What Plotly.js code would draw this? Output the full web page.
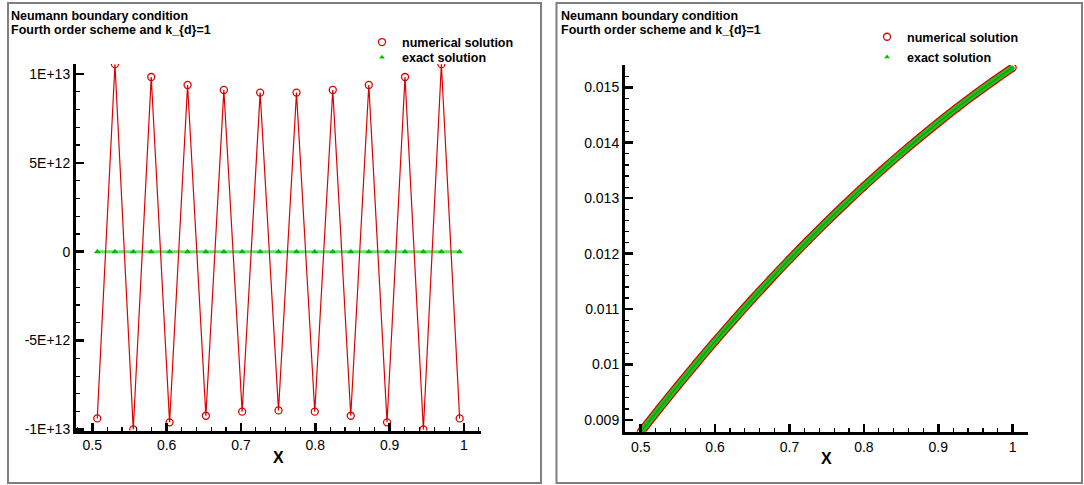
<!DOCTYPE html>
<html>
<head>
<meta charset="utf-8">
<script src="https://cdn.plot.ly/plotly-3.0.1.min.js"></script>
<style>html,body{margin:0;padding:0;background:#fff;}#chart{width:1084px;height:485px;}</style>
</head>
<body>
<div id="chart"></div>
<script>
// ---- Left panel: coarse-grid run (oscillating numerical solution) ----
const xLeft = [0.5067,0.5305,0.5551,0.5793,0.6040,0.6282,0.6528,0.6770,0.7016,0.7258,0.7505,0.7747,0.7993,0.8235,0.8477,0.8720,0.8965,0.9207,0.9454,0.9696,0.9942];
const numericalLeft = [-9.38e12,1.055e13,-1.0e13,9.83e12,-9.6e12,9.38e12,-9.23e12,9.1e12,-9.0e12,8.95e12,-8.93e12,8.95e12,-9.0e12,9.1e12,-9.23e12,9.38e12,-9.6e12,9.83e12,-1.0e13,1.055e13,-9.38e12];
const exactLeft = [0.008895,0.009297,0.009703,0.010093,0.010481,0.010852,0.011219,0.01157,0.011919,0.012251,0.012581,0.012894,0.013202,0.013496,0.013781,0.014057,0.014327,0.014582,0.014834,0.015071,0.015302];

// ---- Right panel: converged run ----
const xRight = [0.500,0.525,0.550,0.575,0.600,0.625,0.650,0.675,0.700,0.725,0.750,0.775,0.800,0.825,0.850,0.875,0.900,0.925,0.950,0.975,1.000];
const numericalRight = [0.00878,0.009205,0.00962,0.010024,0.010419,0.010803,0.011178,0.011542,0.011896,0.01224,0.012574,0.012897,0.013211,0.013514,0.013808,0.014091,0.014364,0.014627,0.01488,0.015122,0.015355];
const exactRight = [0.00878,0.009205,0.00962,0.010024,0.010419,0.010803,0.011178,0.011542,0.011896,0.01224,0.012574,0.012897,0.013211,0.013514,0.013808,0.014091,0.014364,0.014627,0.01488,0.015122,0.015355];

// ---- Text ----
const titleLine1 = "Neumann boundary condition";
const titleLine2 = "Fourth order scheme and k_{d}=1";
const seriesNames = ["numerical solution", "exact solution"];
const xTitle = "X";
const leftYTickVals = [-1e13, -5e12, 0, 5e12, 1e13];
const leftYTickText = ["-1E+13", "-5E+12", "0", "5E+12", "1E+13"];
const rightYTickVals = [0.009, 0.010, 0.011, 0.012, 0.013, 0.014, 0.015];
const rightYTickText = ["0.009", "0.01", "0.011", "0.012", "0.013", "0.014", "0.015"];
const xTickVals = [0.5, 0.6, 0.7, 0.8, 0.9, 1.0];
const xTickText = ["0.5", "0.6", "0.7", "0.8", "0.9", "1"];

const W = 1084, H = 485;
const px = v => v / W;
const py = v => 1 - v / H;

const RED = "#dd0000";
const GREEN = "#00c000";
const FONT = "Liberation Sans, Arial, sans-serif";

const traces = [
  // left panel
  {x: xLeft, y: exactLeft, xaxis: "x", yaxis: "y", mode: "lines+markers", showlegend: false,
   line: {color: "#70dc70", width: 3},
   marker: {symbol: "triangle-up", size: 5, color: GREEN, line: {color: "#00a000", width: 0.5}}},
  {x: xLeft, y: numericalLeft, xaxis: "x", yaxis: "y", mode: "lines+markers", showlegend: false,
   line: {color: RED, width: 1.2},
   marker: {symbol: "circle-open", size: 7, color: RED, line: {width: 1.3}}},
  // right panel
  {x: xRight, y: numericalRight, xaxis: "x2", yaxis: "y2", mode: "lines+markers", showlegend: false,
   line: {color: RED, width: 8.5, shape: "spline", smoothing: 1},
   marker: {symbol: "circle-open", size: 7, color: RED, line: {width: 1.3}}},
  {x: xRight, y: exactRight, xaxis: "x2", yaxis: "y2", mode: "lines+markers", showlegend: false,
   line: {color: "#1ec01e", width: 6, shape: "spline", smoothing: 1},
   marker: {symbol: "triangle-up", size: 5, color: "#1ec01e"}},
  {x: xRight, y: exactRight, xaxis: "x2", yaxis: "y2", mode: "lines", showlegend: false,
   line: {color: "#109a10", width: 1.2, shape: "spline", smoothing: 1}, hoverinfo: "skip"},
  // legend entries (markers only)
  {x: [null], y: [null], xaxis: "x", yaxis: "y", mode: "markers", name: seriesNames[0], legend: "legend",
   marker: {symbol: "circle-open", size: 7, color: RED, line: {width: 1.3}}},
  {x: [null], y: [null], xaxis: "x", yaxis: "y", mode: "markers", name: seriesNames[1], legend: "legend2",
   marker: {symbol: "triangle-up", size: 5, color: GREEN}},
  {x: [null], y: [null], xaxis: "x2", yaxis: "y2", mode: "markers", name: seriesNames[0], legend: "legend3",
   marker: {symbol: "circle-open", size: 7, color: RED, line: {width: 1.3}}},
  {x: [null], y: [null], xaxis: "x2", yaxis: "y2", mode: "markers", name: seriesNames[1], legend: "legend4",
   marker: {symbol: "triangle-up", size: 5, color: GREEN}}
];

const axisCommon = {
  showgrid: false, zeroline: false, showline: true, linecolor: "#000", linewidth: 3,
  ticks: "inside", ticklen: 8, tickwidth: 2.5, tickcolor: "#000",
  tickfont: {family: FONT, size: 14, color: "#000"}, mirror: false
};
const xAxisCommon = Object.assign({}, axisCommon, {
  tickmode: "array", tickvals: xTickVals, ticktext: xTickText,
  minor: {ticks: "inside", ticklen: 4, tickwidth: 1.2, tickcolor: "#000", dtick: 0.02},
  title: {text: xTitle, font: {family: FONT, size: 16, color: "#000", weight: "bold"}, standoff: 0}
});

const legendBase = {xanchor: "left", yanchor: "middle", bgcolor: "rgba(0,0,0,0)", borderwidth: 0,
  font: {family: FONT, size: 12.5, color: "#000", weight: "bold"}, itemclick: false, itemdoubleclick: false,
  tracegroupgap: 0};

const layout = {
  width: W, height: H,
  margin: {l: 0, r: 0, t: 0, b: 0},
  paper_bgcolor: "#fff", plot_bgcolor: "rgba(0,0,0,0)",
  font: {family: FONT, color: "#000"},
  xaxis: Object.assign({}, xAxisCommon, {domain: [px(76), px(480.7)], range: [0.4781, 1.0225], anchor: "y"}),
  yaxis: Object.assign({}, axisCommon, {domain: [1 - 430.5 / H, 1 - 64 / H], range: [-1.006e13, 1.056e13], anchor: "x",
    tickmode: "array", tickvals: leftYTickVals, ticktext: leftYTickText,
    minor: {ticks: "inside", ticklen: 4, tickwidth: 1.2, tickcolor: "#000", dtick: 1e12}}),
  xaxis2: Object.assign({}, xAxisCommon, {domain: [px(625), px(1027.7)], range: [0.4789, 1.0202], anchor: "y2"}),
  yaxis2: Object.assign({}, axisCommon, {domain: [1 - 431.7 / H, 1 - 65 / H], range: [0.008789, 0.015402], anchor: "x2",
    tickmode: "array", tickvals: rightYTickVals, ticktext: rightYTickText,
    minor: {ticks: "inside", ticklen: 4, tickwidth: 1.2, tickcolor: "#000", dtick: 0.0002}}),
  legend: Object.assign({}, legendBase, {x: px(362), y: py(42.4)}),
  legend2: Object.assign({}, legendBase, {x: px(362), y: py(57.5)}),
  legend3: Object.assign({}, legendBase, {x: px(867), y: py(37.1)}),
  legend4: Object.assign({}, legendBase, {x: px(867), y: py(57.4)}),
  shapes: [
    {type: "rect", xref: "paper", yref: "paper", x0: px(8), x1: px(541), y0: py(483), y1: py(3),
     line: {color: "#808080", width: 2}, fillcolor: "rgba(0,0,0,0)"},
    {type: "rect", xref: "paper", yref: "paper", x0: px(556.5), x1: px(1082), y0: py(483), y1: py(3),
     line: {color: "#808080", width: 2}, fillcolor: "rgba(0,0,0,0)"}
  ],
  annotations: [
    {xref: "paper", yref: "paper", x: px(9), y: py(16), xanchor: "left", yanchor: "middle", showarrow: false,
     text: titleLine1, font: {family: FONT, size: 12.5, color: "#000", weight: "bold"}},
    {xref: "paper", yref: "paper", x: px(9), y: py(30), xanchor: "left", yanchor: "middle", showarrow: false,
     text: titleLine2, font: {family: FONT, size: 12.5, color: "#000", weight: "bold"}},
    {xref: "paper", yref: "paper", x: px(558.5), y: py(16), xanchor: "left", yanchor: "middle", showarrow: false,
     text: titleLine1, font: {family: FONT, size: 12.5, color: "#000", weight: "bold"}},
    {xref: "paper", yref: "paper", x: px(558.5), y: py(30), xanchor: "left", yanchor: "middle", showarrow: false,
     text: titleLine2, font: {family: FONT, size: 12.5, color: "#000", weight: "bold"}}
  ]
};

Plotly.newPlot("chart", traces, layout, {staticPlot: true, displayModeBar: false});
</script>
</body>
</html>
